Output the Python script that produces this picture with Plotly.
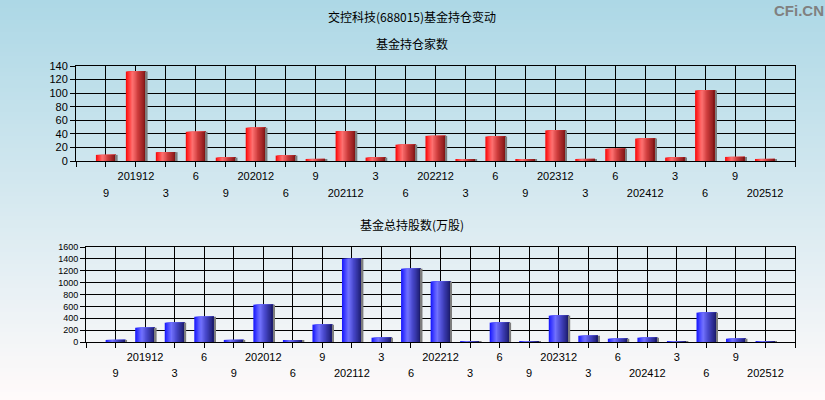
import plotly.graph_objects as go

# ---------------- data ----------------
periods = ["201909", "201912", "202003", "202006", "202009", "202012", "202106", "202109",
           "202112", "202203", "202206", "202212", "202303", "202306", "202309", "202312",
           "202403", "202406", "202412", "202503", "202506", "202509", "202512"]
tick_labels = ["9", "201912", "3", "6", "9", "202012", "6", "9",
               "202112", "3", "6", "202212", "3", "6", "9", "202312",
               "3", "6", "202412", "3", "6", "9", "202512"]
fund_count = [9, 132, 13, 43, 5, 49, 8, 3, 44, 5, 24, 37, 2, 36, 2, 45, 3, 18, 33, 5, 104, 6, 3]
fund_shares = [35, 240, 325, 425, 35, 628, 20, 292, 1402, 72, 1235, 1017, 15, 326, 15, 444,
               105, 55, 72, 15, 494, 55, 12]

title_main = "交控科技(688015)基金持仓变动"
title_top = "基金持仓家数"
title_bottom = "基金总持股数(万股)"

# ---------------- helpers ----------------
def lerp(c1, c2, t):
    return tuple(round(a + (b - a) * t) for a, b in zip(c1, c2))

def grad_color(stops, t):
    for (t0, c0), (t1, c1) in zip(stops, stops[1:]):
        if t0 <= t <= t1:
            return lerp(c0, c1, (t - t0) / (t1 - t0) if t1 > t0 else 0)
    return stops[-1][1]

red_stops = [(0.0, (245, 5, 5)), (0.1, (255, 40, 40)), (0.33, (255, 115, 115)),
             (0.6, (205, 60, 60)), (1.0, (125, 20, 20))]
blue_stops = [(0.0, (20, 20, 250)), (0.1, (50, 50, 255)), (0.33, (115, 115, 255)),
              (0.6, (70, 70, 200)), (1.0, (25, 25, 105))]

xs = list(range(len(periods)))
N = 16
W = 0.67

fig = go.Figure()

def add_cyl_bars(values, stops, xa, ya):
    for k in range(N):
        off = -W / 2 + k * W / N
        c = grad_color(stops, (k + 0.5) / N)
        fig.add_trace(go.Bar(
            x=xs, y=values, xaxis=xa, yaxis=ya,
            offset=off, width=W / 2 - off,
            marker=dict(color="rgb(%d,%d,%d)" % c, line=dict(width=0)),
            showlegend=False, hoverinfo="skip" if k else "y",
            customdata=periods))
    # right-side shadow
    fig.add_trace(go.Bar(
        x=xs, y=values, xaxis=xa, yaxis=ya, offset=W / 2, width=0.055,
        marker=dict(color="rgb(125,125,125)", line=dict(width=0)),
        showlegend=False, hoverinfo="skip"))

add_cyl_bars(fund_count, red_stops, "x", "y")
add_cyl_bars(fund_shares, blue_stops, "x2", "y2")

# invisible carriers so the second-row label axes get drawn
fig.add_trace(go.Scatter(x=xs, y=fund_count, xaxis="x3", yaxis="y", mode="markers",
                         marker=dict(opacity=0), hoverinfo="skip", showlegend=False))
fig.add_trace(go.Scatter(x=xs, y=fund_shares, xaxis="x4", yaxis="y2", mode="markers",
                         marker=dict(opacity=0), hoverinfo="skip", showlegend=False))

# ---------------- axes ----------------
tickpos = list(range(-1, len(periods) + 1))
row2_vals = [i for i in xs if i % 2 == 0]
row2_text = [tick_labels[i] for i in row2_vals]

FONT = "Liberation Sans, Arial, sans-serif"

xtop_dom = [76 / 825, 795 / 825]
xbot_dom = [86 / 825, 795 / 825]
ytop_dom = [1 - 161 / 400, 1 - 66 / 400]
ybot_dom = [1 - 342 / 400, 1 - 247 / 400]

grid_common = dict(showgrid=True, gridcolor="black", gridwidth=1,
                   showline=True, linecolor="black", linewidth=1, mirror=True,
                   zeroline=False, fixedrange=True, automargin=False)

def xaxis_main(dom, anchor):
    return dict(domain=dom, anchor=anchor, range=[-1, len(periods)],
                tickmode="array", tickvals=tickpos,
                ticktext=["" if (i < 0 or i >= len(periods) or i % 2 == 0) else tick_labels[i]
                          for i in tickpos],
                ticks="outside", ticklen=5, tickcolor="black",
                tickfont=dict(family=FONT, size=11, color="black"), **grid_common)

def xaxis_row2(dom, anchor, over, standoff):
    return dict(domain=dom, anchor=anchor, overlaying=over, range=[-1, len(periods)],
                tickmode="array", tickvals=row2_vals, ticktext=row2_text,
                ticks="", showgrid=False, showline=False, zeroline=False,
                ticklabelstandoff=standoff, fixedrange=True, automargin=False,
                tickfont=dict(family=FONT, size=11, color="black"))

fig.update_layout(
    width=825, height=400,
    margin=dict(l=0, r=0, t=0, b=0, pad=0),
    paper_bgcolor="rgb(173,216,230)",
    plot_bgcolor="rgba(0,0,0,0)",
    barmode="overlay",
    showlegend=False,
    xaxis=xaxis_main(xtop_dom, "y"),
    yaxis=dict(domain=ytop_dom, anchor="x", range=[0, 140], dtick=20,
               ticks="outside", ticklen=5, tickcolor="black",
               tickfont=dict(family=FONT, size=11, color="black"), **grid_common),
    xaxis2=xaxis_main(xbot_dom, "y2"),
    yaxis2=dict(domain=ybot_dom, anchor="x2", range=[0, 1600], dtick=200,
                ticks="outside", ticklen=5, tickcolor="black",
                tickfont=dict(family=FONT, size=9, color="black"), **grid_common),
    xaxis3=xaxis_row2(xtop_dom, "y", "x", 24),
    xaxis4=xaxis_row2(xbot_dom, "y2", "x2", 23),
)

# background gradient (light blue -> snow)
top_c = (173, 216, 230)
bot_c = (255, 250, 250)
bands = 100
shapes = []
for i in range(bands):
    c = lerp(top_c, bot_c, i / (bands - 1))
    y1 = 1 - i / bands
    y0 = 1 - (i + 1) / bands - 0.002
    shapes.append(dict(type="rect", xref="paper", yref="paper", x0=0, x1=1, y0=max(y0, 0), y1=y1,
                       fillcolor="rgb(%d,%d,%d)" % c, line=dict(width=0), layer="below"))
fig.update_layout(shapes=shapes)

annos = [
    dict(text=title_main, x=412 / 825, y=1 - 17 / 400, font=dict(family="Noto Sans CJK SC", size=12, color="black")),
    dict(text=title_top, x=412 / 825, y=1 - 43 / 400, font=dict(family="Noto Sans CJK SC", size=12, color="black")),
    dict(text=title_bottom, x=412 / 825, y=1 - 224 / 400, font=dict(family="Noto Sans CJK SC", size=12, color="black")),
    dict(text="<b>CFi.CN</b>", x=799 / 825, y=1 - 10 / 400, font=dict(family=FONT, size=15, color="rgb(128,128,128)")),
]
for a in annos:
    fig.add_annotation(xref="paper", yref="paper", xanchor="center", yanchor="middle",
                       showarrow=False, **a)

fig.write_html("out.html", config={"displayModeBar": False},
               post_script="document.body.style.margin='0';document.body.style.padding='0';")
